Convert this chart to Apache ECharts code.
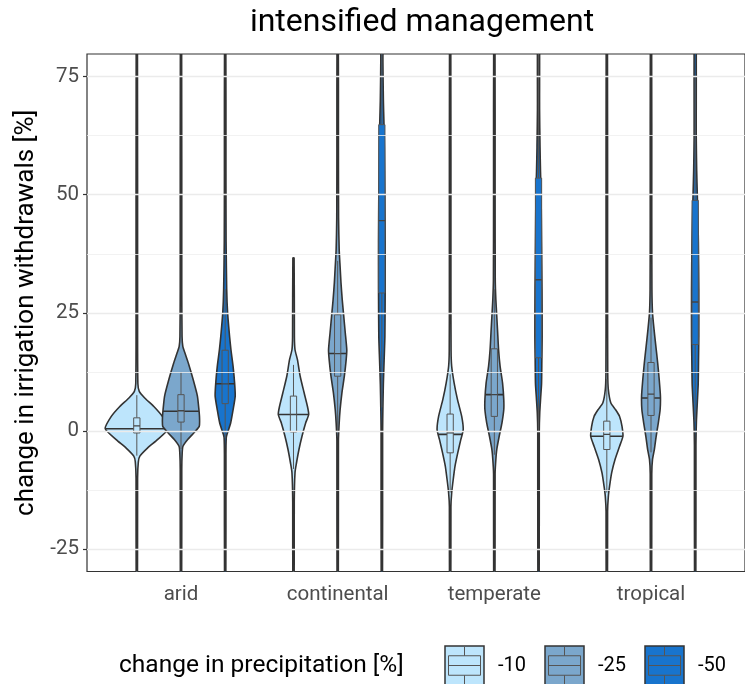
<!DOCTYPE html>
<html>
<head>
<meta charset="utf-8">
<script src="https://cdn.jsdelivr.net/npm/echarts@6/dist/echarts.min.js"></script>
<style>
html,body{margin:0;padding:0;background:#fff;}
#chart{width:745px;height:684px;}
</style>
</head>
<body>
<div id="chart"></div>
<script>
// ---------------- DATA ----------------
const categories = ['arid', 'continental', 'temperate', 'tropical'];
const groups = ['-10', '-25', '-50'];
const yTicks = [-25, 0, 25, 50, 75];
const yMinorTicks = [-12.5, 12.5, 37.5, 62.5];

// violin profiles: [value, relative density]
const densArid10 = [[-35,0.02],[-10,0.025],[-6.5,0.05],[-5.3,0.1],[-3.6,0.35],[-1.8,0.68],[0.5,1.04],[3.1,0.84],[5.2,0.56],[7.0,0.26],[8.4,0.08],[10,0.035],[20,0.025],[85,0.02]];
const densArid25 = [[-35,0.02],[-8,0.025],[-4.5,0.04],[-3.2,0.065],[-1.8,0.22],[-0.4,0.42],[1.0,0.6],[2.8,0.61],[4.5,0.59],[7.4,0.54],[10.9,0.4],[14.4,0.24],[16.5,0.13],[17.9,0.06],[20,0.035],[30,0.025],[85,0.02]];
const densArid50 = [[-35,0.02],[-5,0.025],[-1.5,0.035],[-0.7,0.06],[1.7,0.18],[4.5,0.26],[7.4,0.33],[10.2,0.31],[13.7,0.26],[17.2,0.19],[20,0.145],[25,0.08],[30,0.05],[40,0.03],[55,0.025],[85,0.02]];
const densCont10 = [[-35,0.02],[-15,0.025],[-8.8,0.05],[-6.7,0.1],[-3.9,0.18],[-1.1,0.28],[1.7,0.4],[3.5,0.5],[5.2,0.46],[8.1,0.35],[11.6,0.22],[15.1,0.13],[17.2,0.05],[20,0.03],[36.6,0.02]];
const densCont25 = [[-35,0.02],[-2,0.025],[1.7,0.05],[4.5,0.08],[8.1,0.14],[11.6,0.22],[15.1,0.28],[17.2,0.3],[20.8,0.25],[24.3,0.2],[27.8,0.15],[31.3,0.11],[34.8,0.08],[38.4,0.05],[45,0.03],[60,0.025],[85,0.02]];
const densCont50 = [[-35,0.02],[0,0.025],[5,0.035],[10,0.05],[15,0.075],[20,0.1],[30,0.11],[40,0.11],[50,0.1],[60,0.085],[65,0.07],[70,0.05],[78,0.035],[85,0.03]];
const densTemp10 = [[-35,0.02],[-16,0.025],[-13.1,0.05],[-10.3,0.1],[-7.4,0.16],[-4.6,0.25],[-1.8,0.35],[0.3,0.43],[3.1,0.38],[6.7,0.24],[10.2,0.13],[13.7,0.05],[17,0.03],[30,0.025],[85,0.02]];
const densTemp25 = [[-35,0.02],[-9,0.025],[-6,0.05],[-3.9,0.08],[-1.1,0.16],[1.7,0.25],[4.5,0.31],[6.7,0.31],[10.2,0.27],[13.7,0.19],[17.2,0.14],[20.8,0.11],[24.3,0.08],[27.8,0.05],[32,0.03],[50,0.025],[85,0.02]];
const densTemp50 = [[-35,0.02],[0,0.025],[3.8,0.04],[7,0.07],[10,0.1],[15,0.11],[20,0.12],[30,0.115],[40,0.1],[50,0.085],[55,0.065],[60,0.05],[68,0.035],[85,0.03]];
const densTrop10 = [[-35,0.02],[-17,0.025],[-13.8,0.05],[-11.7,0.09],[-8.8,0.16],[-6,0.27],[-3.2,0.42],[-1.1,0.53],[1.0,0.5],[3.1,0.42],[4.5,0.29],[6.0,0.13],[8.8,0.05],[12,0.03],[30,0.025],[85,0.02]];
const densTrop25 = [[-35,0.02],[-9,0.025],[-6,0.05],[-3.9,0.11],[-1.1,0.17],[1.7,0.24],[4.5,0.3],[7.4,0.31],[10.9,0.27],[14.4,0.22],[17.9,0.16],[21.5,0.1],[25,0.05],[30,0.03],[45,0.025],[85,0.02]];
const densTrop50 = [[-35,0.02],[-3,0.025],[2,0.04],[6,0.07],[10,0.1],[15,0.11],[20,0.12],[30,0.12],[40,0.105],[45,0.09],[50,0.07],[55,0.05],[62,0.035],[85,0.03]];

// violin median (draw_quantiles = 0.5) per category
const violinMed10 = [0.5, 3.5, -0.7, -1.1];
const violinMed25 = [4.2, 16.4, 7.7, 7.0];
const violinMed50 = [10.0, 44.5, 32.0, 29.9];

// boxplot stats per category: [lower whisker, Q1, median, Q3, upper whisker]
const box10 = [[-5.2, -0.4, 1.1, 2.8, 7.6], [-8, -0.2, 3.5, 7.4, 14], [-13, -4.6, -0.4, 3.6, 12], [-13, -3.9, -0.7, 2.1, 11]];
const box25 = [[-3.8, 1.9, 4.3, 7.7, 12.5], [0, 11.6, 16.4, 24.6, 36], [-5, 3.1, 7.7, 17.4, 30], [-4.5, 3.3, 7.8, 14.5, 24]];
const box50 = [[-1.5, 5.8, 10.0, 17.1, 30], [5, 29.2, 44.5, 64.8, 80], [0, 15.5, 32.0, 53.5, 80], [2, 18.3, 27.3, 48.8, 75]];

// ---------------- STYLE ----------------
const fills = ['#BDE5FC', '#7BA7CC', '#1874CD'];
const FONT = 'Roboto';
const DODGE = 0.282;      // dodge offset in category units
const VHALF = 0.194;      // max violin half width in category units
const BHALF = 0.02;       // box half width in category units
const OUTLINE = '#333333';

const profiles = [
  [densArid10, densCont10, densTemp10, densTrop10],
  [densArid25, densCont25, densTemp25, densTrop25],
  [densArid50, densCont50, densTemp50, densTrop50]
];
const violinMeds = [violinMed10, violinMed25, violinMed50];
const boxes = [box10, box25, box50];

function interpWidth(prof, v) {
  for (let i = 0; i < prof.length - 1; i++) {
    const a = prof[i], b = prof[i + 1];
    if (v >= a[0] && v <= b[0]) {
      const t = (v - a[0]) / (b[0] - a[0]);
      return a[1] + t * (b[1] - a[1]);
    }
  }
  return 0;
}

function violinRenderer(gi) {
  return function (params, api) {
    const ci = params.dataIndex;
    const prof = profiles[gi][ci];
    const xc = ci + 1 + (gi - 1) * DODGE;
    const right = prof.map(p => api.coord([xc + p[1] * VHALF, p[0]]));
    const left = prof.slice().reverse().map(p => api.coord([xc - p[1] * VHALF, p[0]]));
    const pts = right.concat(left);
    const vm = violinMeds[gi][ci];
    const w = interpWidth(prof, vm) * VHALF;
    const m1 = api.coord([xc - w, vm]);
    const m2 = api.coord([xc + w, vm]);
    return {
      type: 'group',
      children: [
        { type: 'polygon', shape: { points: pts, smooth: 0.2 },
          style: { fill: fills[gi], stroke: OUTLINE, lineWidth: 1.6, lineJoin: 'round' } },
        { type: 'line', shape: { x1: m1[0], y1: m1[1], x2: m2[0], y2: m2[1] },
          style: { stroke: OUTLINE, lineWidth: 1.6 } }
      ]
    };
  };
}

function boxRenderer(gi) {
  return function (params, api) {
    const ci = params.dataIndex;
    const b = boxes[gi][ci];
    const xc = ci + 1 + (gi - 1) * DODGE;
    const tl = api.coord([xc - BHALF, b[3]]);
    const br = api.coord([xc + BHALF, b[1]]);
    const mL = api.coord([xc - BHALF, b[2]]);
    const mR = api.coord([xc + BHALF, b[2]]);
    const wLo = api.coord([xc, b[0]]);
    const wQ1 = api.coord([xc, b[1]]);
    const wQ3 = api.coord([xc, b[3]]);
    const wHi = api.coord([xc, b[4]]);
    const st = { stroke: '#555555', lineWidth: 1 };
    return {
      type: 'group',
      children: [
        { type: 'line', shape: { x1: wLo[0], y1: wLo[1], x2: wQ1[0], y2: wQ1[1] }, style: st },
        { type: 'line', shape: { x1: wQ3[0], y1: wQ3[1], x2: wHi[0], y2: wHi[1] }, style: st },
        { type: 'rect', shape: { x: tl[0], y: tl[1], width: br[0] - tl[0], height: br[1] - tl[1] },
          style: { fill: fills[gi], stroke: '#555555', lineWidth: 1 } },
        { type: 'line', shape: { x1: mL[0], y1: mL[1], x2: mR[0], y2: mR[1] }, style: { stroke: '#444444', lineWidth: 1.3 } }
      ]
    };
  };
}

const series = [];
// gridlines
series.push({
  type: 'line', data: [], silent: true, z: 0,
  markLine: {
    silent: true, symbol: 'none', label: { show: false },
    data: yTicks.map(v => ({ yAxis: v, lineStyle: { color: '#EBEBEB', width: 1.4, type: 'solid' } }))
      .concat(yMinorTicks.map(v => ({ yAxis: v, lineStyle: { color: '#EFEFEF', width: 0.8, type: 'solid' } })))
  }
});
groups.forEach((g, gi) => {
  series.push({
    type: 'custom', name: g, clip: true, z: 2,
    renderItem: violinRenderer(gi),
    data: categories.map((c, ci) => [ci + 1 + (gi - 1) * DODGE, violinMeds[gi][ci]])
  });
});
groups.forEach((g, gi) => {
  series.push({
    type: 'custom', name: g + ' box', clip: true, z: 3,
    renderItem: boxRenderer(gi),
    data: categories.map((c, ci) => [ci + 1 + (gi - 1) * DODGE, boxes[gi][ci][2]])
  });
});

// legend graphics
const legendGraphics = [];
const LX0 = 445, LY0 = 646, KS = 39, LSTEP = 100;
legendGraphics.push({
  type: 'text', x: 119, y: 666,
  style: { text: 'change in precipitation [%]', font: '24.5px ' + FONT, fill: '#000', verticalAlign: 'middle', align: 'left' }
});
groups.forEach((g, gi) => {
  const x = LX0 + gi * LSTEP, y = LY0;
  const cx = x + KS / 2;
  const bt = y + KS * 0.25, bb = y + KS * 0.75;
  legendGraphics.push({ type: 'rect', shape: { x: x, y: y, width: KS, height: KS }, style: { fill: fills[gi], stroke: OUTLINE, lineWidth: 1.5 } });
  legendGraphics.push({ type: 'line', shape: { x1: cx, y1: y + 1, x2: cx, y2: bt }, style: { stroke: '#555', lineWidth: 1 } });
  legendGraphics.push({ type: 'line', shape: { x1: cx, y1: bb, x2: cx, y2: y + KS - 1 }, style: { stroke: '#555', lineWidth: 1 } });
  legendGraphics.push({ type: 'rect', shape: { x: x + 3.5, y: bt, width: KS - 7, height: bb - bt }, style: { fill: 'none', stroke: '#555', lineWidth: 1 } });
  legendGraphics.push({ type: 'line', shape: { x1: x + 3.5, y1: (bt + bb) / 2, x2: x + KS - 3.5, y2: (bt + bb) / 2 }, style: { stroke: '#555', lineWidth: 1 } });
  legendGraphics.push({
    type: 'text', x: x + KS + 14, y: 666,
    style: { text: g, font: '20px ' + FONT, fill: '#000', verticalAlign: 'middle', align: 'left' }
  });
});
legendGraphics.push({
  type: 'text', x: 422, y: 23,
  style: { text: 'intensified management', font: '32px ' + FONT, fill: '#000', verticalAlign: 'middle', align: 'center' }
});

const option = {
  backgroundColor: '#ffffff',
  animation: false,
  textStyle: { fontFamily: FONT },
  grid: { left: 87, right: -12, top: 54, bottom: 112.5, show: true, borderColor: OUTLINE, borderWidth: 1.2, backgroundColor: '#ffffff' },
  xAxis: {
    type: 'value', min: 0.4, max: 4.6,
    axisLine: { show: false },
    splitLine: { show: false },
    axisTick: { show: true, customValues: [1, 2, 3, 4], length: 4, lineStyle: { color: OUTLINE, width: 1.2 } },
    axisLabel: { customValues: [1, 2, 3, 4], formatter: v => categories[Math.round(v) - 1] || '', color: '#4D4D4D', fontSize: 20.5, margin: 13, fontFamily: FONT }
  },
  yAxis: {
    type: 'value', min: -29.7, max: 79.75,
    name: 'change in irrigation withdrawals [%]', nameLocation: 'middle', nameGap: 47,
    nameTextStyle: { fontSize: 26, color: '#000', fontFamily: FONT },
    axisLine: { show: false },
    splitLine: { show: false },
    axisTick: { show: true, customValues: yTicks, length: 4, lineStyle: { color: OUTLINE, width: 1.2 } },
    axisLabel: { customValues: yTicks, formatter: v => String(v), color: '#4D4D4D', fontSize: 20.5, margin: 8, fontFamily: FONT }
  },
  graphic: legendGraphics,
  series: series
};

const chart = echarts.init(document.getElementById('chart'), null, { renderer: 'canvas' });
chart.setOption(option);
</script>
</body>
</html>
